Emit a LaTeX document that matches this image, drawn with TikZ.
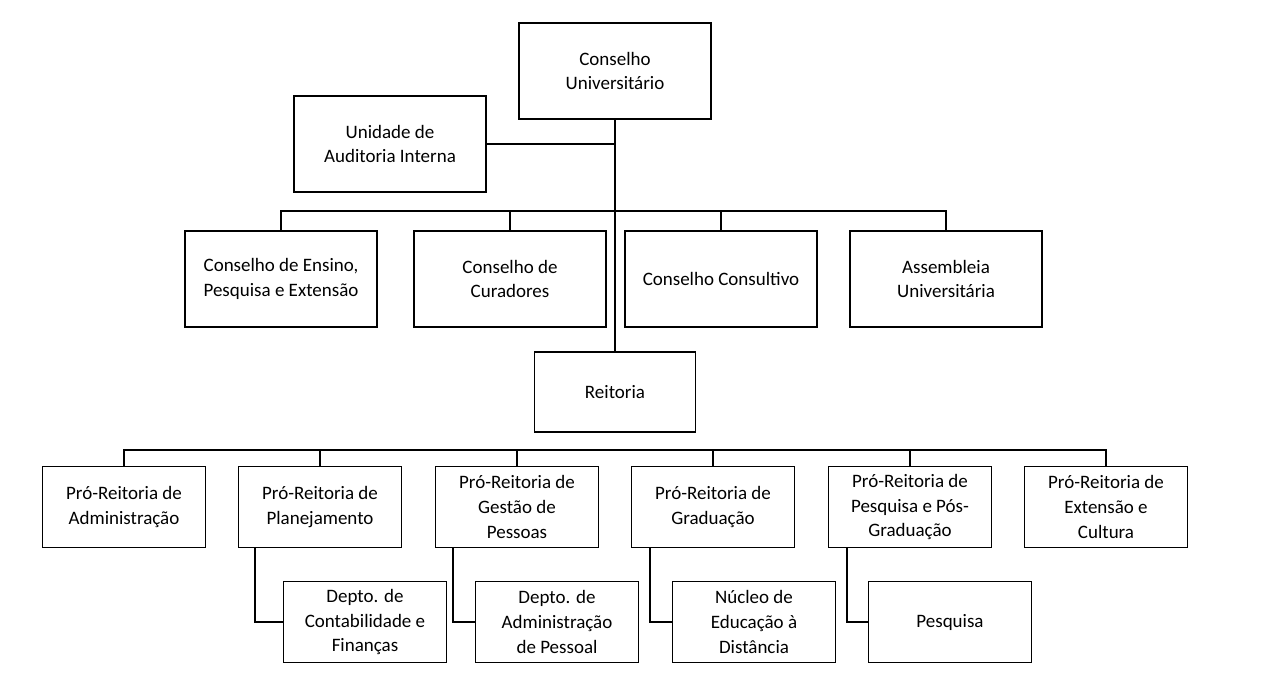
\documentclass[tikz,border=0pt]{standalone}
\usepackage{fontspec}
\setmainfont{Carlito}
\usetikzlibrary{positioning}
\begin{document}
\begin{tikzpicture}[x=0.025cm,y=-0.025cm]
\tikzset{Box/.style={draw, thick, align=center, inner sep=1pt, font=\fontsize{13.5}{17.5}\selectfont},
         BigBox/.style={Box, minimum width=4.8cm, minimum height=2.4cm},
         SmallBox/.style={Box, minimum width=4.075cm, minimum height=2.025cm},
         Link/.style={thick}}
\useasboundingbox (0,0) rectangle (1280,680);

\node[BigBox](CU) at (615,71) {Conselho\\Universitário};
\node[BigBox](UAI) at (390,144) {Unidade de\\Auditoria Interna};

\node[BigBox](CEPE) at (281,279) {Conselho de Ensino,\\Pesquisa e Extensão};
\node[BigBox](CCur) at (510,279) {Conselho de\\Curadores};
\node[BigBox](CCon) at (721,279) {Conselho Consultivo};
\node[BigBox](AU) at (946,279) {Assembleia\\Universitária};

\node[SmallBox, minimum width=4.025cm, minimum height=2cm](REI) at (615,392) {Reitoria};

\node[SmallBox](PRA) at (124,507) {Pró-Reitoria de\\Administração};
\node[SmallBox](PRP) at (320,507) {Pró-Reitoria de\\Planejamento};
\node[SmallBox](PRG) at (517,507) {Pró-Reitoria de\\Gestão de\\Pessoas};
\node[SmallBox](PRGr) at (713,507) {Pró-Reitoria de\\Graduação};
\node[SmallBox](PRPG) at (910,507) {Pró-Reitoria de\\Pesquisa e Pós-\\Graduação};
\node[SmallBox](PREC) at (1106,507) {Pró-Reitoria de\\Extensão e\\Cultura};

\node[SmallBox](DCF) at (365,622) {Depto. de\\Contabilidade e\\Finanças};
\node[SmallBox](DAP) at (557,622) {Depto. de\\Administração\\de Pessoal};
\node[SmallBox](NED) at (754,622) {Núcleo de\\Educação à\\Distância};
\node[SmallBox](PESQ) at (950,622) {Pesquisa};

% upper tree
\draw[Link] (CU) -- (REI);
\draw[Link] (UAI) -- (UAI -| CU);
\coordinate (bar1) at (615,211);
\foreach \n in {CEPE,CCur,CCon,AU}
  \draw[Link] (\n.north) |- (bar1);

% lower tree
\coordinate (bar2) at (615,450);
\foreach \n in {PRA,PRP,PRG,PRGr,PRPG,PREC}
  \draw[Link] (\n.north) |- (bar2);

% sub units
\foreach \p/\d/\x in {PRP/DCF/255,PRG/DAP/453,PRGr/NED/650,PRPG/PESQ/847}
  \draw[Link] (\x,548) |- (\d.west);
\end{tikzpicture}
\end{document}
